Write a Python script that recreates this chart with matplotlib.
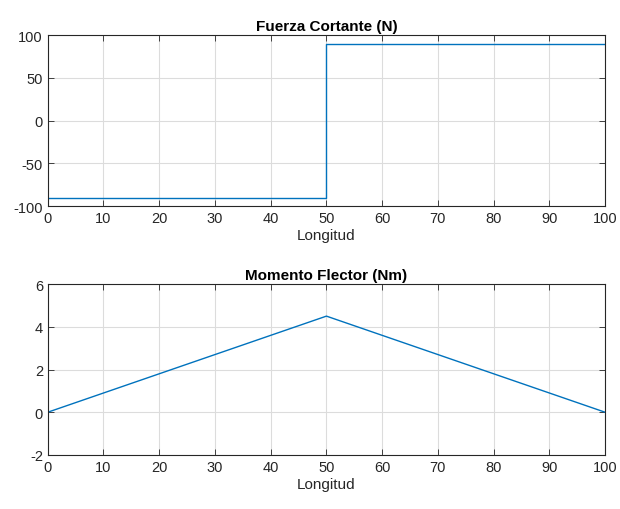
import matplotlib
matplotlib.use("Agg")
import matplotlib.pyplot as plt

# --- Data ---
x_shear = [0, 50, 50, 100]
shear = [-90, -90, 90, 90]
x_moment = [0, 50, 100]
moment = [0, 4.5, 0]

xticks = list(range(0, 101, 10))
shear_yticks = [-100, -50, 0, 50, 100]
moment_yticks = [-2, 0, 2, 4, 6]

plt.rcParams['font.family'] = ['Liberation Sans', 'DejaVu Sans']
plt.rcParams['font.size'] = 10
plt.rcParams['axes.unicode_minus'] = False

line_color = '#0072BD'

fig = plt.figure(figsize=(6.2, 5.1), dpi=100)
ax1 = fig.add_axes([0.077, 0.594, 0.899, 0.335])
ax2 = fig.add_axes([0.077, 0.106, 0.899, 0.335])


def style(ax, yticks, title):
    ax.set_xlim(0, 100)
    ax.set_ylim(yticks[0], yticks[-1])
    ax.set_xticks(xticks)
    ax.set_yticks(yticks)
    ax.grid(True, color='#dcdcdc', linewidth=0.8)
    ax.set_axisbelow(True)
    ax.tick_params(direction='in', top=True, right=True, length=4,
                   colors='#262626', labelsize=10.5, width=0.6)
    for s in ax.spines.values():
        s.set_color('#262626')
        s.set_linewidth(0.8)
    ax.set_xlabel('Longitud', fontsize=11, color='#262626', labelpad=2)
    ax.set_title(title, fontsize=11, fontweight='bold', pad=4)


ax1.plot(x_shear, shear, color=line_color, linewidth=1)
style(ax1, shear_yticks, 'Fuerza Cortante (N)')

ax2.plot(x_moment, moment, color=line_color, linewidth=1)
style(ax2, moment_yticks, 'Momento Flector (Nm)')

fig.savefig('out.png', dpi=100)
